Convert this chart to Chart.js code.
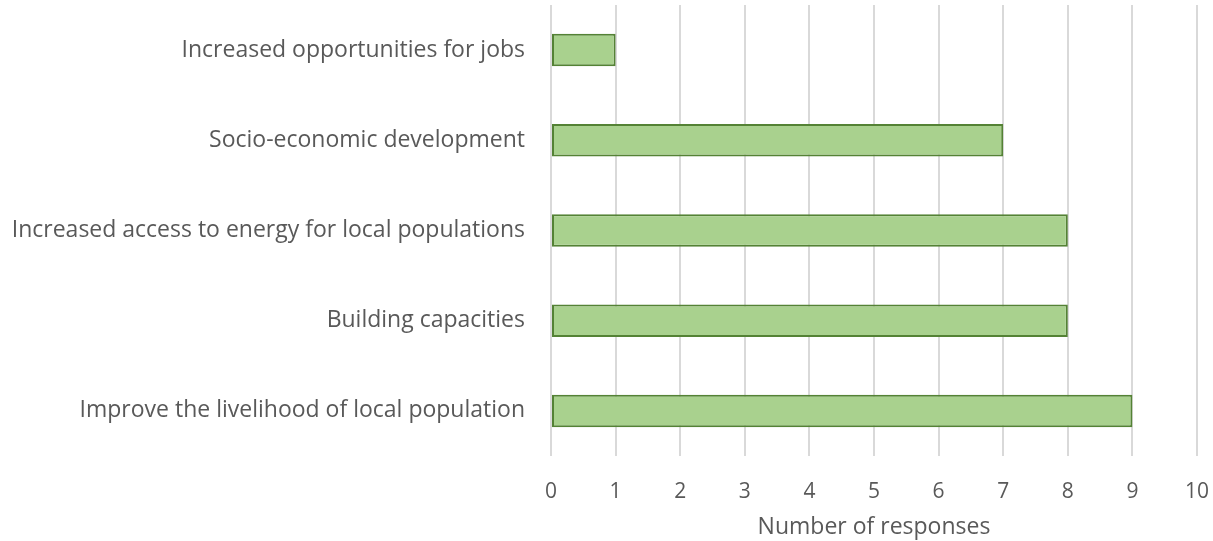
<!DOCTYPE html>
<html>
<head>
<meta charset="utf-8">
<script src="https://cdn.jsdelivr.net/npm/chart.js@4/dist/chart.umd.min.js"></script>
<style>
  html, body { margin: 0; padding: 0; background: #fff; }
  #wrap { width: 1213px; height: 541px; }
</style>
</head>
<body>
<div id="wrap"><canvas id="benefitChart" width="1213" height="541"></canvas></div>
<script>
const categories = [
  "Increased opportunities for jobs",
  "Socio-economic development",
  "Increased access to energy for local populations",
  "Building capacities",
  "Improve the livelihood of local population"
];
const responses = [1, 7, 8, 8, 9];
const xTicks = [0, 1, 2, 3, 4, 5, 6, 7, 8, 9, 10];

const textColor = "#595959";
const fontFamily = "'Open Sans', sans-serif";

// fixed plot box: left edge at x=551, right at 1197, top at 5, bottom at 456
const plotBox = { left: 551, right: 1197, top: 5, bottom: 456 };

const ctx = document.getElementById("benefitChart");

new Chart(ctx, {
  type: "bar",
  data: {
    labels: categories,
    datasets: [{
      data: responses,
      backgroundColor: "#A9D18E",
      borderColor: "#548235",
      borderWidth: 2,
      borderSkipped: false,
      barPercentage: 0.36,
      categoryPercentage: 1
    }]
  },
  options: {
    indexAxis: "y",
    responsive: false,
    animation: false,
    layout: { padding: 0 },
    plugins: {
      legend: { display: false },
      tooltip: { enabled: false }
    },
    scales: {
      x: {
        min: 0,
        max: 10,
        afterBuildTicks: (scale) => {
          scale.ticks = xTicks.map(v => ({ value: v }));
        },
        afterFit: (scale) => {
          scale.height = 541 - plotBox.bottom;
          scale.paddingLeft = 0;
          scale.paddingRight = 0;
        },
        grid: { color: "#D9D9D9", lineWidth: 2, drawTicks: false },
        border: { display: false },
        ticks: {
          color: textColor,
          font: { family: fontFamily, size: 21 },
          padding: 23
        },
        title: {
          display: true,
          text: "Number of responses",
          color: textColor,
          font: { family: fontFamily, size: 23 },
          padding: { top: 1, bottom: 0 }
        }
      },
      y: {
        afterFit: (scale) => {
          scale.width = plotBox.left;
          scale.paddingTop = 0;
          scale.paddingBottom = 0;
        },
        grid: { display: false },
        border: { display: false },
        ticks: {
          color: textColor,
          font: { family: fontFamily, size: 23 },
          padding: 18
        }
      }
    }
  },
  plugins: [{
    id: "fixedArea",
    beforeLayout(chart) {
      chart.options.layout.padding = {
        top: plotBox.top,
        right: 1213 - plotBox.right,
        left: 0,
        bottom: 0
      };
    }
  }]
});
</script>
</body>
</html>
